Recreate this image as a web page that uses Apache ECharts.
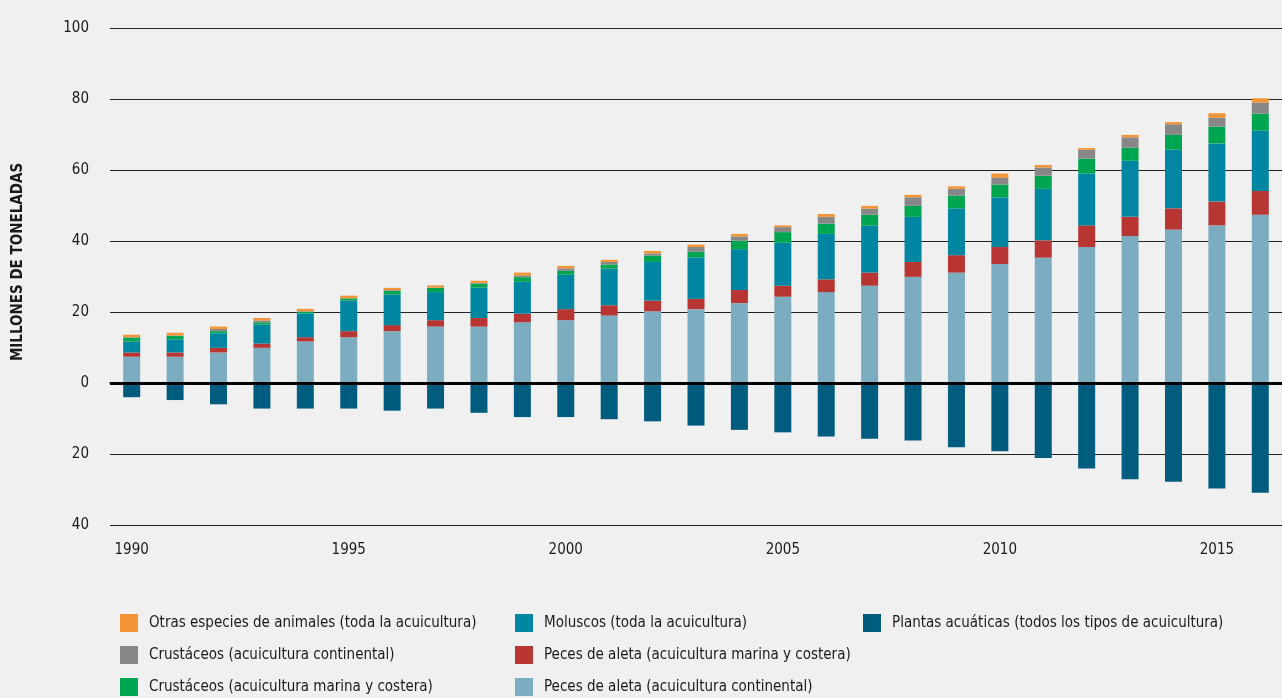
<!DOCTYPE html>
<html>
<head>
<meta charset="utf-8">
<title>Producción acuícola</title>
<script src="https://cdn.jsdelivr.net/npm/echarts@6/dist/echarts.min.js"></script>
<style>
  html, body { margin: 0; padding: 0; background: #f0f0f0; }
  #chart { width: 1282px; height: 698px; }
</style>
</head>
<body>
<div id="chart"></div>
<script>
// años
const years = ['1990', '1991', '1992', '1993', '1994', '1995', '1996', '1997', '1998', '1999',
  '2000', '2001', '2002', '2003', '2004', '2005', '2006', '2007', '2008', '2009',
  '2010', '2011', '2012', '2013', '2014', '2015', '2016']

// millones de toneladas
const pecesContinental = [7.4, 7.4, 8.6, 9.9, 11.7, 12.9, 14.6, 15.9, 15.9, 17.1, 17.7, 19.0, 20.2, 20.8, 22.5, 24.3, 25.6, 27.4, 29.9, 31.1, 33.5, 35.3, 38.3, 41.4, 43.2, 44.4, 47.4]
const pecesMarina = [1.2, 1.2, 1.3, 1.2, 1.2, 1.7, 1.7, 1.8, 2.4, 2.4, 3.1, 2.9, 3.0, 2.9, 3.7, 3.1, 3.6, 3.7, 4.2, 4.9, 4.8, 4.9, 6.1, 5.4, 6.0, 6.7, 6.7]
const moluscos = [3.1, 3.7, 4.1, 5.4, 6.7, 8.6, 8.6, 7.9, 8.6, 9.0, 9.7, 10.3, 10.9, 11.7, 11.5, 12.1, 12.8, 13.2, 12.7, 13.2, 14.0, 14.5, 14.6, 15.8, 16.5, 16.4, 17.0]
const crustaceosMarina = [1.1, 1.0, 0.6, 0.6, 0.5, 0.6, 1.1, 1.2, 1.1, 1.3, 1.1, 1.2, 1.8, 1.6, 2.4, 3.0, 2.9, 3.1, 3.1, 3.6, 3.6, 3.7, 4.2, 3.7, 4.2, 4.7, 4.8]
const crustaceosContinental = [0.1, 0.1, 0.6, 0.5, 0.1, 0.1, 0.2, 0.1, 0.2, 0.5, 0.7, 0.7, 0.6, 1.3, 1.2, 1.4, 1.9, 1.7, 2.4, 1.9, 1.9, 2.3, 2.5, 2.9, 3.0, 2.5, 3.1]
const otrasEspecies = [0.7, 0.75, 0.7, 0.7, 0.7, 0.7, 0.6, 0.6, 0.6, 0.8, 0.7, 0.6, 0.7, 0.7, 0.7, 0.5, 0.8, 0.8, 0.7, 0.7, 1.2, 0.7, 0.5, 0.7, 0.6, 1.3, 1.2]
// se dibuja bajo el cero
const plantasAcuaticas = [4.0, 4.8, 6.0, 7.2, 7.2, 7.2, 7.8, 7.2, 8.4, 9.6, 9.6, 10.2, 10.8, 12.0, 13.2, 13.9, 15.1, 15.7, 16.2, 18.1, 19.2, 21.1, 24.1, 27.1, 27.8, 29.7, 30.9]

const yTicks = [-40, -20, 0, 20, 40, 60, 80, 100]

const FONT = "'Liberation Sans Narrow', 'DejaVu Sans Condensed', sans-serif"
const TXT = '#1a1a1a'

const names = {
  otras: 'Otras especies de animales (toda la acuicultura)',
  crustCont: 'Crustáceos (acuicultura continental)',
  crustMar: 'Crustáceos (acuicultura marina y costera)',
  moluscos: 'Moluscos (toda la acuicultura)',
  pecesMar: 'Peces de aleta (acuicultura marina y costera)',
  pecesCont: 'Peces de aleta (acuicultura continental)',
  plantas: 'Plantas acuáticas (todos los tipos de acuicultura)'
}

const makeBar = (name, data, color) => {
  return {
    name: name,
    type: 'bar',
    stack: 'total',
    barWidth: 17,
    data: data,
    itemStyle: {
      color: color
    }
  }
}

// una leyenda por columna
const makeLegend = (left, data) => {
  return {
    orient: 'vertical',
    left: left,
    top: 614,
    padding: 0,
    itemWidth: 18,
    itemHeight: 18,
    itemGap: 14,
    icon: 'rect',
    selectedMode: false,
    data: data,
    textStyle: {
      fontFamily: FONT,
      fontSize: 15,
      color: TXT,
      padding: [0, 0, 0, 6]
    }
  }
}

const plantasSeries = makeBar(names.plantas, plantasAcuaticas.map((v) => -v), '#005c7f')
// línea gruesa del cero
plantasSeries.markLine = {
  silent: true,
  symbol: 'none',
  label: { show: false },
  lineStyle: { color: '#000', width: 3, type: 'solid' },
  data: [{ yAxis: 0 }]
}

const chart = echarts.init(document.getElementById('chart'))
chart.setOption({
  backgroundColor: '#f0f0f0',
  animation: false,
  grid: {
    left: 110,
    top: 28,
    width: 1177,
    height: 497
  },
  graphic: [
    {
      type: 'text',
      x: 18,
      y: 262,
      rotation: Math.PI / 2,
      style: {
        text: 'MILLONES DE TONELADAS',
        fontFamily: FONT,
        fontWeight: 'bold',
        fontSize: 15,
        fill: TXT,
        align: 'center',
        verticalAlign: 'middle'
      }
    }
  ],
  legend: [
    makeLegend(120, [names.otras, names.crustCont, names.crustMar]),
    makeLegend(515, [names.moluscos, names.pecesMar, names.pecesCont]),
    makeLegend(863, [names.plantas])
  ],
  xAxis: {
    type: 'category',
    data: years,
    axisLine: { lineStyle: { color: '#222', width: 1.5 } },
    axisTick: {
      alignWithLabel: true,
      length: 7,
      interval: (i, v) => Number(v) % 5 === 0,
      lineStyle: { color: '#222' }
    },
    axisLabel: {
      interval: (i, v) => Number(v) % 5 === 0,
      margin: 18,
      fontFamily: FONT,
      fontSize: 15,
      color: TXT
    }
  },
  yAxis: {
    type: 'value',
    min: yTicks[0],
    max: yTicks[yTicks.length - 1],
    interval: 20,
    axisLine: { show: false },
    axisTick: { show: false },
    axisLabel: {
      margin: 21,
      fontFamily: FONT,
      fontSize: 15,
      color: TXT,
      formatter: (v) => String(Math.abs(v))
    },
    splitLine: { lineStyle: { color: '#222', width: 1 } }
  },
  series: [
    makeBar(names.pecesCont, pecesContinental, '#7bacc0'),
    makeBar(names.pecesMar, pecesMarina, '#b73634'),
    makeBar(names.moluscos, moluscos, '#0086a0'),
    makeBar(names.crustMar, crustaceosMarina, '#00a550'),
    makeBar(names.crustCont, crustaceosContinental, '#878787'),
    makeBar(names.otras, otrasEspecies, '#f39437'),
    plantasSeries
  ]
})
</script>
</body>
</html>
